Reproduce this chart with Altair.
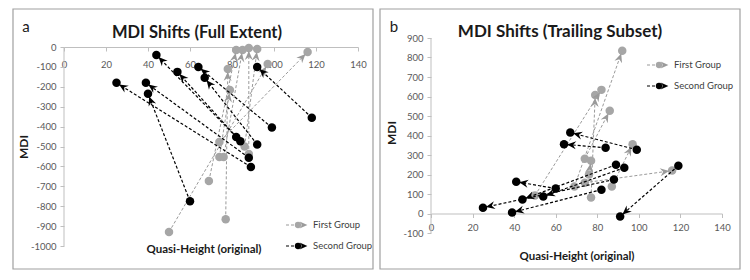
import math
import pandas as pd
import altair as alt

FONT = "Lato"

# ---------------- data ----------------
# Panel a: MDI Shifts (Full Extent)
A_gray_x0 = [50, 77, 69, 74, 76, 74, 88, 86]
A_gray_y0 = [-930, -866, -673, -553, -553, -477, -538, -500]
A_gray_x1 = [97, 78, 82, 79, 85, 116, 88, 92]
A_gray_y1 = [-85, -110, -15, -216, -15, -25, -5, -10]
A_black_x0 = [118, 99, 82, 84, 92, 88, 89, 60]
A_black_y0 = [-355, -405, -452, -474, -490, -556, -603, -775]
A_black_x1 = [92, 64, 44, 54, 67, 39, 25, 40]
A_black_y1 = [-100, -100, -40, -125, -155, -180, -180, -235]

# Panel b: MDI Shifts (Trailing Subset)
B_gray_x0 = [69, 50, 77, 74, 87, 74, 76]
B_gray_y0 = [138, 92, 82, 281, 138, 158, 200]
B_gray_x1 = [92, 82, 79, 86, 97, 116, 77]
B_gray_y1 = [835, 634, 608, 527, 355, 220, 271]
B_black_x0 = [119, 99, 84, 88, 60, 89, 93, 82]
B_black_y0 = [245, 327, 337, 174, 128, 250, 235, 122]
B_black_x1 = [91, 67, 64, 25, 41, 44, 54, 39]
B_black_y1 = [-15, 415, 355, 30, 163, 72, 87, 5]

x_ticks = [0, 20, 40, 60, 80, 100, 120, 140]
A_y_ticks = [0, -100, -200, -300, -400, -500, -600, -700, -800, -900, -1000]
A_y_range = [-1000, 0]
B_y_ticks = [900, 800, 700, 600, 500, 400, 300, 200, 100, 0, -100]
B_y_range = [-100, 900]

group_names = ["First Group", "Second Group"]
x_title = "Quasi-Height (original)"
y_title = "MDI"

# ---------------- styling ----------------
GRAY = "#a6a6a6"
GRAY_LINE = "#9a9a9a"
BLACK = "#000000"
AXIS_C = "#bfbfbf"
LABEL_C = "#595959"
ARROW = "M0,3 L-4,12 L0,9 L4,12 Z"


def one():
    return pd.DataFrame({"k": [0]})


def panel(gx0, gy0, gx1, gy1, bx0, by0, bx1, by1, W, Hdata, top_pad, yrange, yticks,
          xaxis_at, xlabpad, frame, title, title_size, title_xy, letter, letter_xy,
          mdi_xy, qh_xy, leg_xy):
    # Hdata: pixel height of the y range; top_pad: extra empty pixels above it
    H = Hdata + top_pad
    sy = Hdata / float(yrange[1] - yrange[0])
    ydom = [yrange[0], yrange[1] + top_pad / sy]
    xs = alt.Scale(domain=[0, 140], nice=False, zero=False)
    ys = alt.Scale(domain=ydom, nice=False, zero=False)
    # pixel position of the x axis (value xaxis_at)
    ax_px = (ydom[1] - xaxis_at) * sy
    xaxis = alt.Axis(title="", values=x_ticks, orient="bottom", offset=-(H - ax_px),
                     tickSize=4, labelPadding=xlabpad, grid=False,
                     domainColor=AXIS_C, tickColor=AXIS_C, labelColor=LABEL_C,
                     labelFont=FONT, labelFontSize=9.5, labelFlush=False,
                     labelOverlap=False, labelExpr="datum.value + ''")
    yaxis = alt.Axis(title="", values=yticks, orient="left", tickSize=4,
                     labelPadding=4, grid=False, domain=False,
                     tickColor=AXIS_C, labelColor=LABEL_C, labelFont=FONT,
                     labelFontSize=9.5, labelFlush=False, labelOverlap=False,
                     labelExpr="datum.value + ''")
    sx = W / 140.0

    layers = []
    # frame
    layers.append(alt.Chart(one()).mark_rect(fillOpacity=0, stroke="#a0a0a0", strokeWidth=1.2).encode(
        x=alt.value(frame[0]), x2=alt.value(W + frame[1]),
        y=alt.value(frame[2]), y2=alt.value(H + frame[3])))
    # y axis line over the value range only
    layers.append(alt.Chart(one()).mark_rule(color=AXIS_C, strokeWidth=1).encode(
        x=alt.value(0),
        y=alt.Y(datum=yrange[1], type="quantitative", scale=ys, axis=yaxis),
        y2=alt.Y2(datum=yrange[0])))

    for (x0, y0, x1, y1, mcol, lcol, lw) in [
        (gx0, gy0, gx1, gy1, GRAY, GRAY_LINE, 1.0),
        (bx0, by0, bx1, by1, BLACK, BLACK, 1.2),
    ]:
        ang = []
        for a, b, c, d in zip(x0, y0, x1, y1):
            dx = (c - a) * sx
            dy = -(d - b) * sy
            ang.append(math.degrees(math.atan2(dx, -dy)) % 360)
        pairs = pd.DataFrame({"x0": x0, "y0": y0, "x1": x1, "y1": y1, "ang": ang})
        pts = pd.DataFrame({"x": list(x0) + list(x1), "y": list(y0) + list(y1)})
        layers.append(alt.Chart(pairs).mark_rule(color=lcol, strokeWidth=lw, strokeDash=[3, 2]).encode(
            x=alt.X("x0:Q", scale=xs, axis=xaxis), y=alt.Y("y0:Q", scale=ys, axis=yaxis),
            x2="x1:Q", y2="y1:Q"))
        layers.append(alt.Chart(pts).mark_circle(color=mcol, opacity=1, size=72).encode(
            x=alt.X("x:Q", scale=xs, axis=xaxis), y=alt.Y("y:Q", scale=ys, axis=yaxis)))
        layers.append(alt.Chart(pairs).mark_point(shape=ARROW, filled=True, color=lcol, opacity=1, size=4).encode(
            x=alt.X("x1:Q", scale=xs, axis=xaxis), y=alt.Y("y1:Q", scale=ys, axis=yaxis),
            angle=alt.Angle("ang:Q", scale=None)))

    # texts
    layers.append(alt.Chart(one()).mark_text(font=FONT, fontSize=title_size, fontWeight="bold", color="#1a1a1a").encode(
        x=alt.value(title_xy[0]), y=alt.value(title_xy[1]), text=alt.value(title)))
    layers.append(alt.Chart(one()).mark_text(font=FONT, fontSize=15, color="#1a1a1a").encode(
        x=alt.value(letter_xy[0]), y=alt.value(letter_xy[1]), text=alt.value(letter)))
    layers.append(alt.Chart(one()).mark_text(font=FONT, fontSize=12, fontWeight="bold", angle=270, color="#1a1a1a").encode(
        x=alt.value(mdi_xy[0]), y=alt.value(mdi_xy[1]), text=alt.value(y_title)))
    layers.append(alt.Chart(one()).mark_text(font=FONT, fontSize=11.5, fontWeight="bold", color="#1a1a1a").encode(
        x=alt.value(qh_xy[0]), y=alt.value(qh_xy[1]), text=alt.value(x_title)))

    # legend
    lx, ly1, ly2 = leg_xy
    for ly, mcol, lcol, name in [(ly1, GRAY, GRAY_LINE, group_names[0]), (ly2, BLACK, BLACK, group_names[1])]:
        layers.append(alt.Chart(one()).mark_rule(color=lcol, strokeWidth=1.1, strokeDash=[3, 2]).encode(
            x=alt.value(lx), x2=alt.value(lx + 18), y=alt.value(ly)))
        layers.append(alt.Chart(one()).mark_circle(color=mcol, opacity=1, size=40).encode(
            x=alt.value(lx + 12), y=alt.value(ly)))
        layers.append(alt.Chart(one()).mark_point(shape=ARROW, filled=True, color=lcol, opacity=1, size=3, angle=90).encode(
            x=alt.value(lx + 24), y=alt.value(ly)))
        layers.append(alt.Chart(one()).mark_text(font=FONT, fontSize=9.5, align="left", color="#404040").encode(
            x=alt.value(lx + 27), y=alt.value(ly), text=alt.value(name)))

    return alt.layer(*layers).properties(width=W, height=H)


left = panel(A_gray_x0, A_gray_y0, A_gray_x1, A_gray_y1,
             A_black_x0, A_black_y0, A_black_x1, A_black_y1,
             W=294, Hdata=199, top_pad=9, yrange=A_y_range, yticks=A_y_ticks,
             xaxis_at=0, xlabpad=8, frame=(-51, 15, -29, 23),
             title="MDI Shifts (Full Extent)", title_size=16.5, title_xy=(133, -5),
             letter="a", letter_xy=(-38, -11),
             mdi_xy=(-40, 109), qh_xy=(140, 212), leg_xy=(222, 187, 208))

right = panel(B_gray_x0, B_gray_y0, B_gray_x1, B_gray_y1,
              B_black_x0, B_black_y0, B_black_x1, B_black_y1,
              W=291, Hdata=195, top_pad=0, yrange=B_y_range, yticks=B_y_ticks,
              xaxis_at=0, xlabpad=5, frame=(-51, 18, -29, 36),
              title="MDI Shifts (Trailing Subset)", title_size=17, title_xy=(129, -6),
              letter="b", letter_xy=(-37, -11),
              mdi_xy=(-39, 95), qh_xy=(146, 219), leg_xy=(216, 27, 48))

chart = alt.hconcat(left, right, spacing=5).properties(
    padding={"left": 4, "top": 0, "right": 0, "bottom": 0},
    background="white",
).configure_view(strokeWidth=0)

chart.save("out.html", embed_options={"renderer": "svg", "actions": False})
